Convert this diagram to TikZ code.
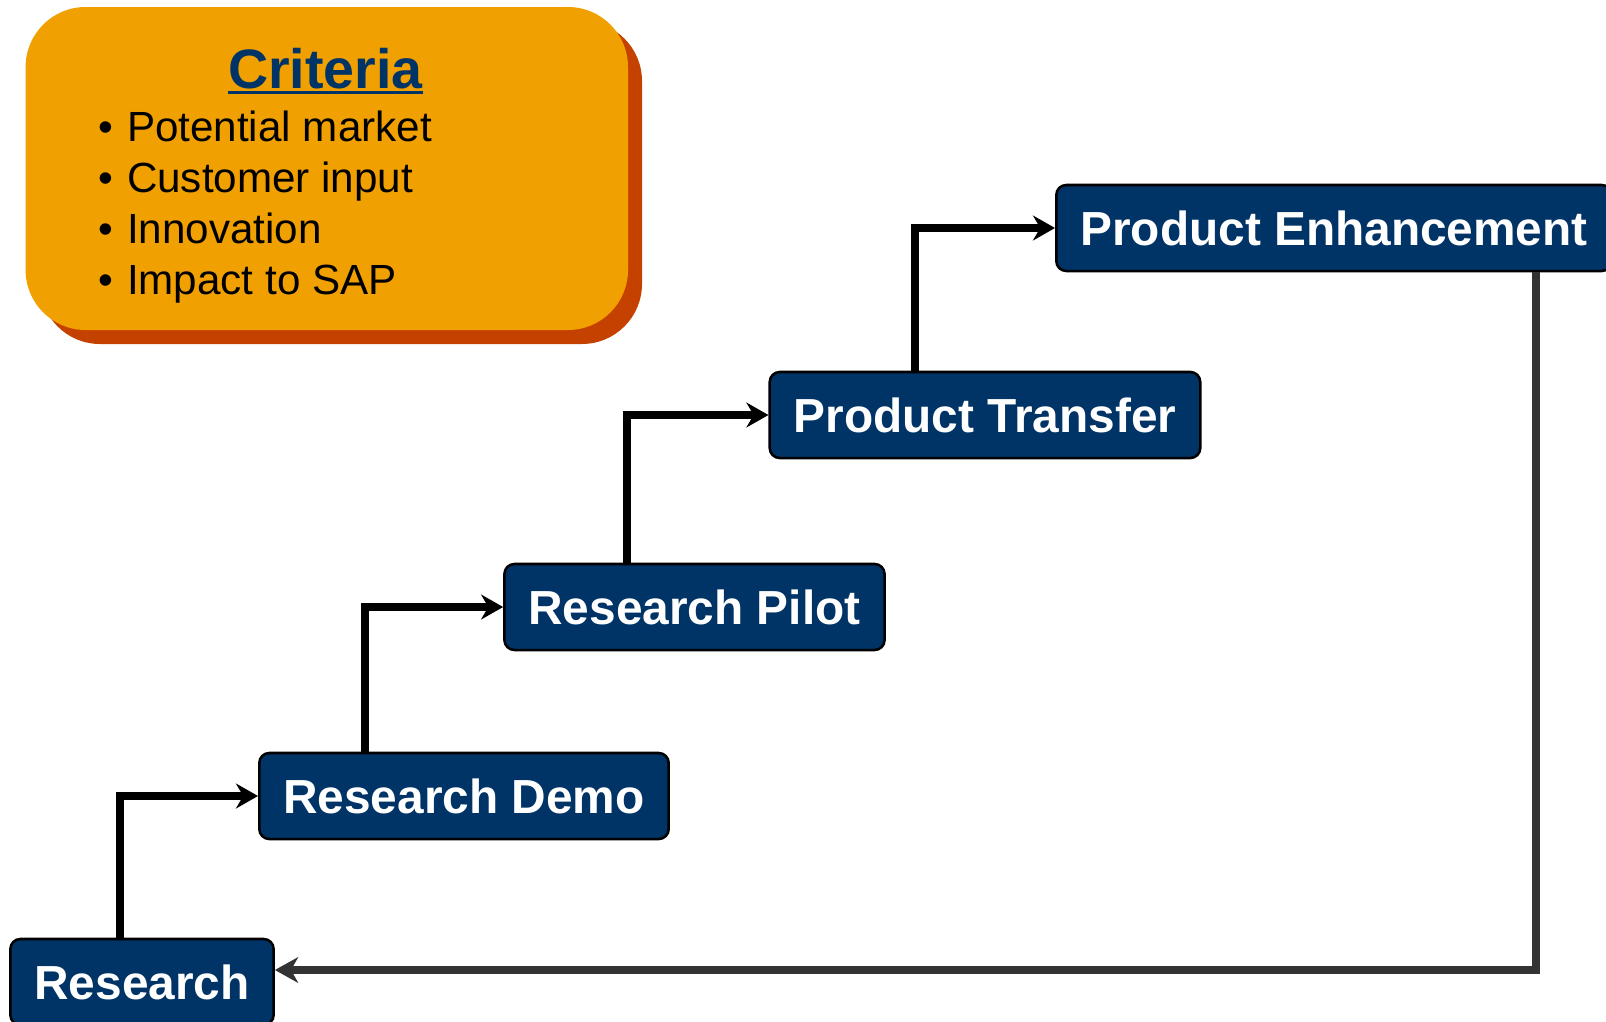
\documentclass[tikz,border=0pt]{standalone}
\usepackage{fontspec}
\setmainfont{Liberation Sans}
\usetikzlibrary{arrows.meta}
\definecolor{stagenavy}{RGB}{0,51,102}
\definecolor{critorange}{RGB}{240,160,0}
\definecolor{critshadow}{RGB}{197,65,0}
\definecolor{loopgray}{RGB}{51,51,51}
\tikzset{
  stage/.style={draw=black, line width=1.8pt, fill=stagenavy, rounded corners=0.25cm,
    text=white, font=\fontsize{34}{40}\selectfont\bfseries,
    minimum height=2.15cm, inner xsep=0.6cm, inner ysep=0pt},
  stepline/.style={black, line width=5.4pt,
    -{Stealth[length=0.55cm, width=0.62cm, inset=0.18cm]}},
  loopline/.style={loopgray, line width=5.4pt,
    -{Stealth[length=0.58cm, width=0.64cm, inset=0.18cm]}},
  critem/.style={anchor=base west, inner sep=0pt, font=\fontsize{30}{36}\selectfont},
}

\begin{document}
\begin{tikzpicture}[x=0.025cm, y=-0.025cm]
\useasboundingbox (0,0) rectangle (1606,1021);
% criteria panel
\fill[critshadow, rounded corners=1.5cm] (40,21) rectangle (642,344);
\fill[critorange, rounded corners=1.5cm] (25.6,7) rectangle (628,330);
\node[anchor=base, inner sep=0pt, text=stagenavy, font=\fontsize{39.5}{46}\selectfont\bfseries] (crittitle) at (325.5,88) {Criteria};
\draw[stagenavy, line width=2.2pt] ([yshift=-0.11cm]crittitle.base west) -- ([yshift=-0.11cm]crittitle.base east);
\foreach \txt [count=\i] in {Potential market, Customer input, Innovation, Impact to SAP}
  \node[critem] (item\i) at (98,90+51*\i) {\textbullet\hspace{0.35cm}\txt};

% stages
\node[stage] (research) at (142,982) {Research};
\node[stage] (demo) at (464,796) {Research Demo};
\node[stage] (pilot) at (694.5,607) {Research Pilot};
\node[stage] (transfer) at (985,415) {Product Transfer};
\node[stage] (enhance) at (1334,228) {Product Enhancement};

% steps up
\draw[stepline] ([xshift=-0.55cm]research.north) |- (demo.west);
\draw[stepline] ([xshift=-2.475cm]demo.north) |- (pilot.west);
\draw[stepline] ([xshift=-1.69cm]pilot.north) |- (transfer.west);
\draw[stepline] ([xshift=-1.75cm]transfer.north) |- (enhance.west);
% back to the start
\draw[loopline] ([xshift=5.05cm]enhance.south) |- ([yshift=0.3cm]research.east);
\end{tikzpicture}
\end{document}
